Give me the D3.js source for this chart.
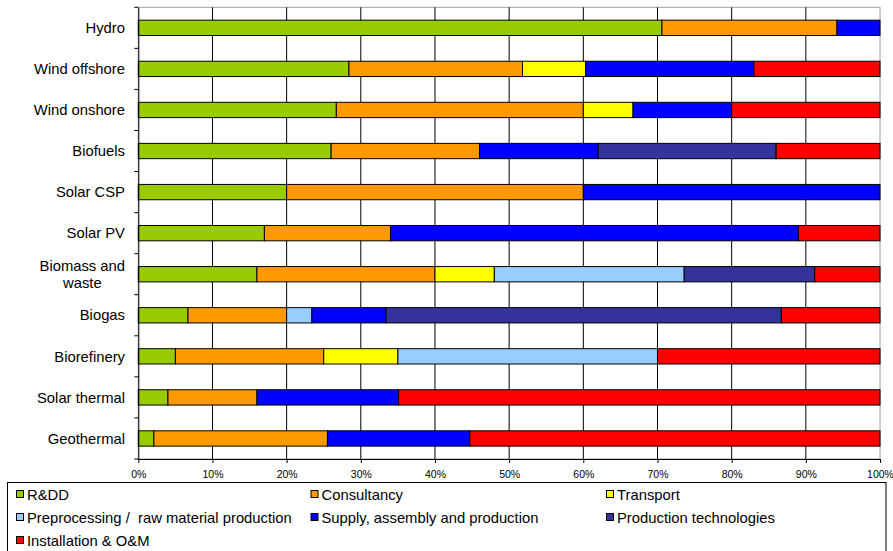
<!DOCTYPE html>
<html><head><meta charset="utf-8">
<script src="https://cdn.jsdelivr.net/npm/d3@7"></script>
<style>
html,body{margin:0;padding:0;background:#fff;}
svg{display:block;font-family:"Liberation Sans",Arial,sans-serif;}
</style></head>
<body><svg id="chart" width="893" height="551"></svg>
<script>
const categories = ["Hydro","Wind offshore","Wind onshore","Biofuels","Solar CSP","Solar PV","Biomass and waste","Biogas","Biorefinery","Solar thermal","Geothermal"];
const seriesNames = ["R&DD","Consultancy","Transport","Preprocessing /  raw material production","Supply, assembly and production","Production technologies","Installation & O&M"];
const seriesColors = ["#99CC00","#FF9900","#FFFF00","#99CCFF","#0000FF","#333399","#FF0000"];
const rdd           = [70.6, 28.4, 26.7, 26.0, 20.0, 17.0, 16.0,  6.7,  5.0,  4.0,  2.1];
const consultancy   = [23.6, 23.4, 33.3, 20.0, 40.0, 17.0, 24.0, 13.3, 20.0, 12.0, 23.4];
const transport     = [ 0,    8.5,  6.7,  0,    0,    0,    8.0,  0,   10.0,  0,    0  ];
const preprocessing = [ 0,    0,    0,    0,    0,    0,   25.6,  3.4, 35.0,  0,    0  ];
const supply        = [ 5.8, 22.7, 13.3, 16.0, 40.0, 55.0,  0,   10.0,  0,   19.1, 19.2];
const prodTech      = [ 0,    0,    0,   24.0,  0,    0,   17.6, 53.3,  0,    0,    0  ];
const installation  = [ 0,   17.0, 20.0, 14.0,  0,   11.0,  8.8, 13.3, 30.0, 64.9, 55.3];
const xTicks = [0,10,20,30,40,50,60,70,80,90,100];

(function () {
const seriesValues = [rdd, consultancy, transport, preprocessing, supply, prodTech, installation];
const keys = seriesNames.map((_, i) => "s" + i);
const rows = categories.map((c, j) => {
  const r = {cat: c};
  keys.forEach((k, i) => r[k] = seriesValues[i][j]);
  return r;
});

const svg = d3.select("#chart");
const pL = 138.3, pR = 880, pT = 7.3, pB = 459;
const x = d3.scaleLinear().domain([0, 100]).range([pL, pR]);
const y = d3.scaleBand().domain(categories).range([pT, pB]).paddingInner(0.627).paddingOuter(0.3135);
const yb = d3.scaleBand().domain(categories).range([pT, pB]);

// plot border (gray)
svg.append("rect").attr("x", pL).attr("y", pT).attr("width", pR - pL).attr("height", pB - pT)
  .attr("fill", "none").attr("stroke", "#a0a0a0").attr("stroke-width", 1);

// gridlines
svg.append("g").selectAll("line").data(xTicks.slice(1, -1)).join("line")
  .attr("x1", d => x(d)).attr("x2", d => x(d)).attr("y1", pT).attr("y2", pB)
  .attr("stroke", "#000").attr("stroke-width", 1);

// bars
const stacked = d3.stack().keys(keys)(rows);
svg.append("g").selectAll("g").data(stacked).join("g")
  .attr("fill", (d, i) => seriesColors[i])
  .selectAll("rect").data(d => d.filter(p => p[1] - p[0] > 0)).join("rect")
  .attr("x", d => x(d[0])).attr("width", d => x(d[1]) - x(d[0]))
  .attr("y", d => y(d.data.cat)).attr("height", y.bandwidth())
  .attr("stroke", "#000").attr("stroke-width", 1);

// x axis
const xAxis = d3.axisBottom(x).tickValues(xTicks).tickFormat(d => d + "%").tickSize(4).tickSizeOuter(0);
const gx = svg.append("g").attr("transform", `translate(0,${pB})`).call(xAxis);
gx.select(".domain").attr("stroke", "#000");
gx.selectAll(".tick line").attr("stroke", "#000");
gx.selectAll(".tick text").attr("font-size", "10.5px").attr("fill", "#000").attr("dy", "0.71em").attr("y", 11.8)
  .style("font-family", '"Liberation Sans",Arial,sans-serif');

// y axis
const yAxis = d3.axisLeft(yb).tickSize(0).tickFormat("");
const gy = svg.append("g").attr("transform", `translate(${pL},0)`).call(yAxis);
gy.select(".domain").attr("stroke", "#000");
const bounds = categories.map(c => yb(c)).concat([pB]);
svg.append("g").selectAll("line").data(bounds).join("line")
  .attr("x1", pL - 4).attr("x2", pL).attr("y1", d => d).attr("y2", d => d)
  .attr("stroke", "#000");

// category labels
const labelG = svg.append("g");
categories.forEach(c => {
  const cy = yb(c) + yb.bandwidth() / 2;
  if (c === "Biomass and waste") {
    const t = labelG.append("text").attr("font-size", "14.8px").attr("text-anchor", "middle").attr("fill", "#000");
    t.append("tspan").attr("x", 125 - 42.7).attr("y", cy - 8.7).attr("dy", "0.35em").text("Biomass and");
    t.append("tspan").attr("x", 125 - 42.7).attr("y", cy + 8.7).attr("dy", "0.35em").text("waste");
  } else {
    labelG.append("text").attr("font-size", "14.8px").attr("text-anchor", "end").attr("fill", "#000")
      .attr("x", 125).attr("y", cy).attr("dy", "0.35em").text(c);
  }
});

// legend
const lg = svg.append("g");
lg.append("rect").attr("x", 7.5).attr("y", 482.5).attr("width", 878.5).attr("height", 80)
  .attr("fill", "#fff").attr("stroke", "#000").attr("stroke-width", 1);
const colX = [16, 310.5, 606];
const rowY = [494.5, 517.5, 540.5];
seriesNames.forEach((name, i) => {
  const cx = colX[i % 3], cy = rowY[Math.floor(i / 3)];
  lg.append("rect").attr("x", cx + 0.5).attr("y", cy - 4).attr("width", 7).attr("height", 7)
    .attr("fill", seriesColors[i]).attr("stroke", "#000").attr("stroke-width", 1);
  lg.append("text").attr("x", cx + 11).attr("y", cy).attr("dy", "0.35em")
    .attr("font-size", "14.8px").attr("fill", "#000").style("white-space", "pre").text(name);
});
})();
</script>
</body></html>
